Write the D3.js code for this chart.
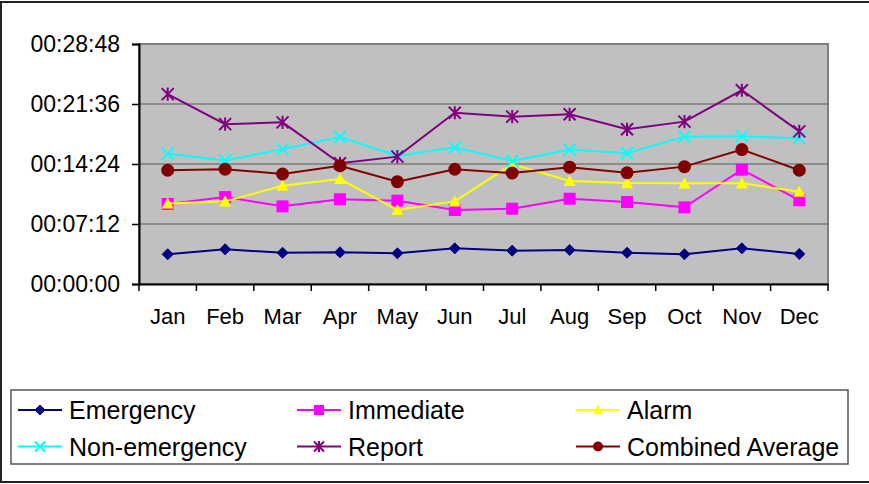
<!DOCTYPE html>
<html><head><meta charset="utf-8">
<script src="https://cdn.jsdelivr.net/npm/d3@7"></script>
<style>html,body{margin:0;padding:0;background:#fff;}svg{display:block;font-family:"Liberation Sans",Arial,sans-serif;}</style>
</head><body>
<svg id="c" width="869" height="484"></svg>
<script>
const months = ["Jan","Feb","Mar","Apr","May","Jun","Jul","Aug","Sep","Oct","Nov","Dec"];
// values in seconds
const emergency    = [214,250,225,228,221,257,240,245,225,214,257,216];
const immediate    = [576,626,559,610,600,533,542,614,590,552,823,603];
const alarm        = [580,595,708,756,533,595,864,742,727,725,725,665];
const nonEmergency = [938,889,971,1058,922,984,886,968,941,1061,1063,1050];
const report       = [1367,1151,1164,869,917,1233,1205,1222,1114,1169,1395,1099];
const combined     = [819,827,792,852,737,826,799,841,801,845,968,819];
const yTicks = [0,432,864,1296,1728];
const seriesNames = ["Emergency","Immediate","Alarm","Non-emergency","Report","Combined Average"];

const series = [
  {name:seriesNames[0], values:emergency, color:"#000080", marker:"diamond"},
  {name:seriesNames[1], values:immediate, color:"#FF00FF", marker:"square"},
  {name:seriesNames[2], values:alarm, color:"#FFFF00", marker:"triangle"},
  {name:seriesNames[3], values:nonEmergency, color:"#00FFFF", marker:"x"},
  {name:seriesNames[4], values:report, color:"#800080", marker:"star"},
  {name:seriesNames[5], values:combined, color:"#800000", marker:"circle"}
];

const svg = d3.select("#c");
const L=139, R=828, T=44, B=284;

// outer border
svg.append("rect").attr("x",1).attr("y",2).attr("width",900).attr("height",480)
  .attr("fill","none").attr("stroke","#222").attr("stroke-width",2);

const x = d3.scaleBand().domain(months).range([L,R]).padding(0);
const y = d3.scaleLinear().domain([0,1728]).range([B,T]);

function fmt(s){const h=Math.floor(s/3600),m=Math.floor((s%3600)/60),sec=s%60;
  return [h,m,sec].map(v=>String(v).padStart(2,"0")).join(":");}

// plot area
svg.append("rect").attr("x",L).attr("y",T).attr("width",R-L).attr("height",B-T)
  .attr("fill","#C0C0C0").attr("stroke","#808080").attr("stroke-width",2);

// gridlines
svg.append("g").selectAll("line").data(yTicks.slice(1,-1)).join("line")
  .attr("x1",L).attr("x2",R).attr("y1",d=>y(d)).attr("y2",d=>y(d))
  .attr("stroke","#5a5a5a").attr("stroke-width",1.2);

// y axis
const yAxis = svg.append("g").attr("transform",`translate(${L},0)`)
  .call(d3.axisLeft(y).tickValues(yTicks).tickFormat(fmt).tickSizeOuter(0).tickSize(7).tickPadding(12));
yAxis.select(".domain").attr("stroke","#000").attr("stroke-width",2);
yAxis.selectAll(".tick line").attr("stroke","#000").attr("stroke-width",1.5);
yAxis.selectAll(".tick text").attr("font-size",23).attr("fill","#000")
  .attr("font-family","'Liberation Sans',Arial,sans-serif");

// x axis
const xAxis = svg.append("g").attr("transform",`translate(0,${B})`)
  .call(d3.axisBottom(x).tickSize(0).tickPadding(0).tickSizeOuter(0));
xAxis.select(".domain").attr("stroke","#000").attr("stroke-width",2);
xAxis.selectAll(".tick text").attr("font-size",22).attr("fill","#000").attr("dy",0).attr("y",40)
  .attr("font-family","'Liberation Sans',Arial,sans-serif");
// category boundary ticks
const bounds = months.map(m=>x(m)).concat([x(months[months.length-1])+x.bandwidth()]);
svg.append("g").selectAll("line").data(bounds).join("line")
  .attr("x1",d=>d).attr("x2",d=>d).attr("y1",B).attr("y2",B+7)
  .attr("stroke","#000").attr("stroke-width",1.5);

function drawMarker(g, type, cx, cy, color, s){
  const h=s/2;
  if(type==="diamond"){
    g.append("path").attr("d",`M${cx},${cy-h}L${cx+h},${cy}L${cx},${cy+h}L${cx-h},${cy}Z`).attr("fill",color).attr("stroke",color).attr("stroke-width",1);
  } else if(type==="square"){
    g.append("rect").attr("x",cx-h).attr("y",cy-h).attr("width",s).attr("height",s).attr("fill",color);
  } else if(type==="triangle"){
    g.append("path").attr("d",`M${cx},${cy-h}L${cx+h},${cy+h*0.85}L${cx-h},${cy+h*0.85}Z`).attr("fill",color);
  } else if(type==="circle"){
    g.append("circle").attr("cx",cx).attr("cy",cy).attr("r",h).attr("fill",color);
  } else if(type==="x"){
    g.append("path").attr("d",`M${cx-h},${cy-h}L${cx+h},${cy+h}M${cx-h},${cy+h}L${cx+h},${cy-h}`).attr("stroke",color).attr("stroke-width",2).attr("fill","none");
  } else if(type==="star"){
    g.append("path").attr("d",`M${cx-h},${cy-h}L${cx+h},${cy+h}M${cx-h},${cy+h}L${cx+h},${cy-h}M${cx},${cy-h*1.1}L${cx},${cy+h*1.1}`).attr("stroke",color).attr("stroke-width",2).attr("fill","none");
  }
}

const cx = m => x(m)+x.bandwidth()/2;
const line = d3.line().x((d,i)=>cx(months[i])).y(d=>y(d));
const sizes = {diamond:11, square:12, triangle:12, circle:13, x:12, star:12};

series.forEach(s=>{
  const g = svg.append("g");
  g.append("path").datum(s.values).attr("d",line).attr("fill","none")
    .attr("stroke",s.color).attr("stroke-width",2);
  s.values.forEach((v,i)=>drawMarker(g, s.marker, cx(months[i]), y(v), s.color, sizes[s.marker]));
});

// legend
svg.append("rect").attr("x",11).attr("y",390).attr("width",837).attr("height",74)
  .attr("fill","#fff").attr("stroke","#555").attr("stroke-width",1.5);
const colX = [18, 297, 576];
const rowY = [410, 446.5];
series.forEach((s,i)=>{
  const col=i%3, row=Math.floor(i/3);
  const lx=colX[col], ly=rowY[row];
  const g=svg.append("g");
  g.append("line").attr("x1",lx).attr("x2",lx+44).attr("y1",ly).attr("y2",ly).attr("stroke",s.color).attr("stroke-width",2);
  drawMarker(g, s.marker, lx+22, ly, s.color, 10);
  g.append("text").attr("x",lx+51).attr("y",ly+9).attr("font-size",25).attr("fill","#000").text(s.name);
});
</script>
</body></html>
